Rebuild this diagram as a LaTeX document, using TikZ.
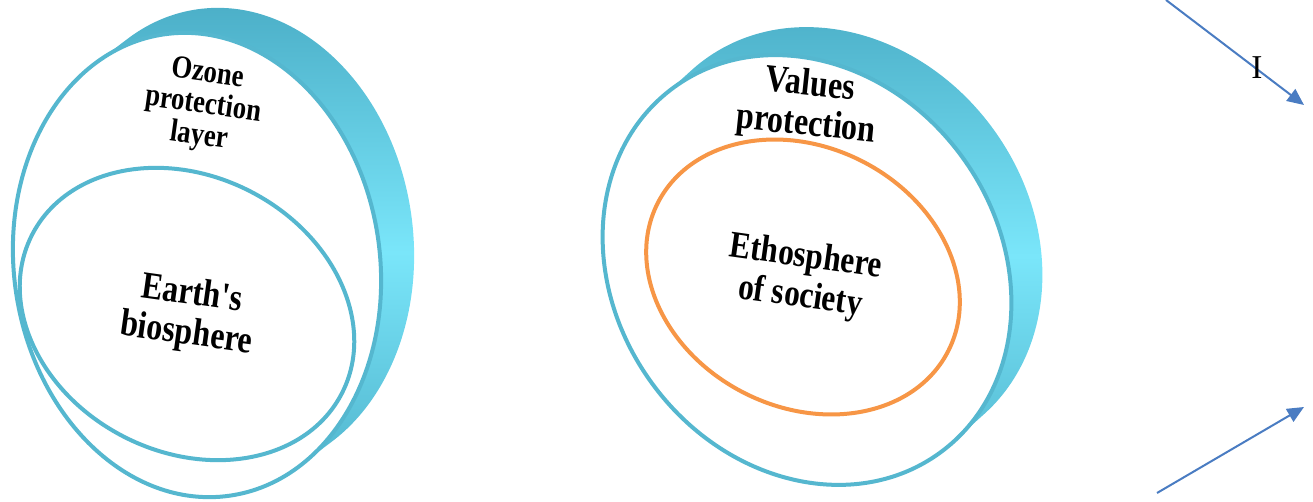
\documentclass[tikz,border=0pt]{standalone}
\usepackage{fontspec}
\setmainfont{Liberation Serif}
\usetikzlibrary{arrows.meta}

\definecolor{ringblue}{HTML}{55B7CF}
\definecolor{rimdark}{HTML}{4AADC6}
\definecolor{rimlight}{HTML}{7AE6FA}
\definecolor{ethorange}{HTML}{F79646}
\definecolor{arrowblue}{HTML}{4A7CC2}

\tikzset{
  discrim/.style={top color=rimdark, bottom color=rimdark, middle color=rimlight},
  discface/.style={draw=ringblue, line width=3pt, fill=white},
  biosring/.style={draw=ringblue, line width=3pt},
  ethoring/.style={draw=ethorange, line width=3pt},
  lbl/.style={font=\bfseries, align=center, inner sep=0pt},
  flow/.style={draw=arrowblue, line width=1.5pt, -{Triangle[length=12.5pt, width=11pt]}}
}

\begin{document}
\begin{tikzpicture}[x=0.75pt, y=0.75pt]
  \useasboundingbox (0,0) rectangle (1313,-502);

  % left disc
  \shade[discrim] \foreach \k in {0,...,24}
    {({197+33*\k/24},{-265+25*\k/24}) circle[x radius=183, y radius=233, rotate=8]};
  \draw[discface] (197,-265) circle[x radius=183, y radius=233, rotate=8];
  \draw[biosring] (187,-314) circle[x radius=174, y radius=138, rotate=-27];

  \node[lbl, font=\bfseries\fontsize{20}{19.7}\selectfont, rotate=-8, yscale=1.2] (ozone) at (203,-106) {Ozone\\protection\\layer};
  \node[lbl, font=\bfseries\fontsize{24}{25}\selectfont, rotate=-8, yscale=1.2] (earth) at (189,-315) {Earth\textquotesingle s\\biosphere};

  % right disc
  \shade[discrim] \foreach \k in {0,...,24}
    {({807+31*\k/24},{-270+28*\k/24}) circle[x radius=192, y radius=226, rotate=36]};
  \draw[discface] (807,-270) circle[x radius=192, y radius=226, rotate=36];
  \draw[ethoring] (803,-277) circle[x radius=163, y radius=130, rotate=-27];

  \node[lbl, font=\bfseries\fontsize{24}{25}\selectfont, rotate=-6, yscale=1.2] (values) at (808,-106) {Values\\protection};
  \node[lbl, font=\bfseries\fontsize{23.5}{25}\selectfont, rotate=-8, yscale=1.2] (etho) at (803,-278) {Ethosphere\\of society};

  % arrows
  \coordinate (t1) at (1166,0);
  \coordinate (t2) at (1304,-105);
  \coordinate (b1) at (1157,-493);
  \coordinate (b2) at (1304,-407);
  \draw[flow] (t1) -- (t2);
  \draw[flow] (b1) -- (b2);
  \node[font=\fontsize{25}{30}\selectfont, inner sep=0pt] (mark) at (1257,-68) {I};
\end{tikzpicture}
\end{document}
